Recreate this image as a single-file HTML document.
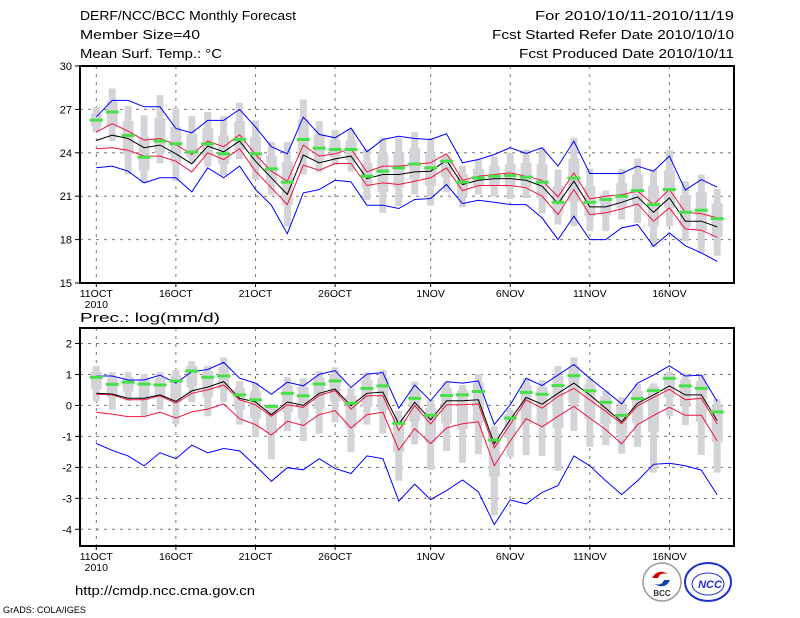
<!DOCTYPE html>
<html><head><meta charset="utf-8"><style>
body{margin:0;background:#fff;}
svg{display:block;font-family:"Liberation Sans","DejaVu Sans",sans-serif;}
</style></head><body>
<svg id="chart" width="800" height="618" viewBox="0 0 800 618" xmlns="http://www.w3.org/2000/svg">
<g font-size="12.5" fill="#000">
<text x="80" y="20" textLength="216" lengthAdjust="spacingAndGlyphs">DERF/NCC/BCC Monthly Forecast</text>
<text x="80" y="39" textLength="120" lengthAdjust="spacingAndGlyphs">Member Size=40</text>
<text x="80" y="58" textLength="142" lengthAdjust="spacingAndGlyphs">Mean Surf. Temp.: °C</text>
<text x="535" y="20" textLength="199" lengthAdjust="spacingAndGlyphs">For 2010/10/11-2010/11/19</text>
<text x="492" y="39" textLength="242" lengthAdjust="spacingAndGlyphs">Fcst Started Refer Date 2010/10/10</text>
<text x="519" y="58" textLength="215" lengthAdjust="spacingAndGlyphs">Fcst Produced Date 2010/10/11</text>
<text x="80" y="322" textLength="140" lengthAdjust="spacingAndGlyphs">Prec.: log(mm/d)</text>
<text x="75" y="595" textLength="180" lengthAdjust="spacingAndGlyphs">http://cmdp.ncc.cma.gov.cn</text>
<text x="3" y="613" font-size="9" textLength="83" lengthAdjust="spacingAndGlyphs">GrADS: COLA/IGES</text>
</g>
<g>
<circle cx="662" cy="582" r="19" fill="#fff" stroke="#999" stroke-width="1.5"/>
<path d="M652 578 q6 -10 16 -4 q-8 -2 -10 4 z" fill="#c00"/>
<path d="M670 580 q-4 10 -16 4 q8 2 10 -4 z" fill="#14a"/>
<text x="662" y="596" font-size="8" font-weight="bold" text-anchor="middle" fill="#333">BCC</text>
</g>
<g>
<ellipse cx="708" cy="582" rx="23" ry="19" fill="#fff" stroke="#23c" stroke-width="2"/>
<ellipse cx="708" cy="584" rx="16" ry="11" fill="none" stroke="#23c" stroke-width="1"/>
<text x="710" y="588" font-size="11" font-style="italic" font-weight="bold" text-anchor="middle" fill="#23c">NCC</text>
</g>
<g id="top"></g>
<g id="bot"></g>
</svg>
<script>
const dayLabels = ["11OCT","16OCT","21OCT","26OCT","1NOV","6NOV","11NOV","16NOV"];
const dayLabelIdx = [0,5,10,15,21,26,31,36];
// Temperature panel
const tTicks = [15,18,21,24,27,30];
const tBlueHi = [26.49,27.62,27.62,27.18,27.18,25.68,25.38,26.24,26.24,27.0,25.78,24.42,23.93,26.47,25.27,25.04,25.71,24.07,24.92,25.15,24.99,24.92,25.31,23.31,23.54,23.88,24.35,23.95,24.35,23.08,24.81,22.57,22.57,22.57,23.08,22.73,23.77,21.42,22.15,21.62];
const tRedHi = [25.45,26.01,25.5,24.88,24.99,24.58,23.88,24.81,24.42,25.25,23.88,22.73,22.04,24.53,23.77,23.93,24.28,22.68,23.08,23.08,23.19,23.31,23.93,22.1,22.38,22.5,22.61,22.38,22.1,20.95,22.61,20.81,21.0,21.11,21.35,20.42,21.46,19.89,19.8,19.5];
const tMean = [24.85,25.22,24.99,24.35,24.53,23.93,23.24,24.46,24.07,24.81,23.42,22.27,21.12,23.84,23.31,23.58,23.77,22.22,22.5,22.5,22.68,22.73,23.49,21.81,22.1,22.2,22.22,22.1,21.69,20.49,22.04,20.26,20.26,20.58,20.95,19.89,20.88,19.27,19.27,18.88];
const tRedLo = [24.28,24.35,24.18,23.77,23.77,23.42,22.68,24.0,23.54,24.28,22.73,21.58,20.42,23.15,22.8,23.26,23.26,21.74,21.92,21.81,22.04,22.27,22.96,21.39,21.74,21.74,21.74,21.58,21.0,19.73,21.46,19.73,19.85,20.12,20.47,19.27,20.19,18.74,18.65,18.16];
const tBlueLo = [22.96,23.08,22.73,21.92,22.27,22.27,21.3,22.96,22.27,23.08,21.46,20.38,18.41,21.23,21.46,22.1,21.99,20.38,20.38,20.15,20.77,20.84,21.81,20.49,20.72,20.58,20.42,20.42,19.5,18.0,19.62,18.0,18.0,18.81,19.04,17.54,18.46,17.58,17.08,16.5];
const tGreen = [26.26,26.82,25.2,23.7,24.81,24.62,24.05,24.62,23.93,24.92,23.93,22.89,21.97,24.92,24.32,24.23,24.23,22.38,22.73,22.96,23.22,22.96,23.42,21.97,22.27,22.38,22.43,22.32,21.97,20.58,22.25,20.58,20.77,21.0,21.39,20.42,21.46,19.89,20.03,19.45];
const tWhiskHi = [27.16,28.45,27.23,26.59,27.99,27.07,26.54,26.82,26.54,27.46,26.24,24.74,24.74,27.69,26.19,25.57,25.66,24.27,25.04,25.04,25.43,24.92,23.88,23.08,23.54,23.77,24.0,24.23,24.35,22.85,25.04,22.89,21.39,22.89,23.61,22.89,24.19,22.04,22.5,21.5];
const tWhiskLo = [25.43,24.81,22.5,21.92,23.27,22.04,23.3,23.04,22.43,23.57,22.15,21.11,18.92,22.5,22.66,23.15,22.7,20.73,19.85,20.31,21.11,20.35,21.27,20.24,21.12,21.0,20.81,20.88,19.8,19.04,18.92,18.58,18.58,19.38,19.15,17.47,18.92,17.89,17.08,16.89];
const tBoxHi = [26.7,27.6,26.2,25.1,26.4,25.8,25.3,25.7,25.2,26.2,25.1,23.8,23.4,26.3,25.3,24.9,24.9,23.3,23.9,24.0,24.3,23.9,23.7,22.5,22.9,23.1,23.2,23.3,23.2,21.7,23.6,21.7,21.1,21.9,22.5,21.7,22.8,21.0,21.3,20.5];
const tBoxLo = [25.8,25.8,23.9,22.8,24.0,23.3,23.7,23.8,23.2,24.2,23.0,22.0,20.4,23.7,23.5,23.7,23.5,21.6,21.3,21.6,22.2,21.7,22.3,21.1,21.7,21.7,21.6,21.6,20.9,19.8,20.6,19.6,19.7,20.2,20.3,18.9,20.2,18.9,18.6,18.2];
// Precipitation panel
const pTicks = [-4,-3,-2,-1,0,1,2];
const pBlueHi = [0.95,0.95,0.82,0.82,0.98,0.72,1.09,1.16,1.39,0.88,0.72,0.36,0.75,0.63,1.0,1.12,0.58,1.01,1.06,-0.09,0.66,0.15,0.77,0.72,0.79,-0.62,0.02,0.875,0.64,0.98,1.32,0.875,0.47,0.05,0.72,0.98,1.28,0.95,0.98,0.13];
const pRedHi = [0.36,0.34,0.18,0.18,0.31,0.07,0.39,0.5,0.66,0.18,0.02,-0.35,0.02,-0.06,0.32,0.48,-0.12,0.31,0.31,-0.81,0.0,-0.6,0.02,0.02,0.05,-1.37,-0.62,0.18,-0.09,0.29,0.55,0.18,-0.19,-0.59,-0.01,0.26,0.52,0.18,0.23,-0.6];
const pMean = [0.39,0.37,0.23,0.23,0.34,0.13,0.47,0.59,0.77,0.23,0.11,-0.3,0.11,0.0,0.39,0.53,-0.01,0.39,0.43,-0.6,0.1,-0.46,0.15,0.15,0.18,-1.24,-0.46,0.26,0.04,0.39,0.72,0.34,-0.09,-0.53,0.07,0.34,0.63,0.34,0.34,-0.49];
const pRedLo = [-0.22,-0.28,-0.36,-0.36,-0.22,-0.41,-0.21,-0.12,0.05,-0.43,-0.62,-0.96,-0.51,-0.65,-0.3,-0.17,-0.73,-0.3,-0.22,-1.44,-0.75,-1.23,-0.73,-0.59,-0.53,-1.95,-1.15,-0.43,-0.69,-0.35,-0.03,-0.41,-0.78,-1.24,-0.62,-0.33,-0.06,-0.32,-0.32,-1.15];
const pBlueLo = [-1.23,-1.45,-1.63,-1.95,-1.53,-1.72,-1.28,-1.53,-1.39,-1.47,-1.95,-2.45,-2.01,-2.08,-1.72,-2.04,-2.2,-1.63,-1.72,-3.09,-2.54,-3.04,-2.75,-2.41,-2.79,-3.85,-3.05,-3.18,-2.81,-2.59,-1.63,-1.95,-2.43,-2.88,-2.43,-1.9,-1.87,-1.95,-2.09,-2.89];
const pGreen = [0.91,0.68,0.75,0.69,0.66,0.79,1.11,0.91,0.95,0.34,0.18,-0.03,0.39,0.31,0.69,0.79,0.07,0.55,0.63,-0.58,0.23,-0.32,0.32,0.34,0.45,-1.12,-0.41,0.42,0.36,0.64,0.96,0.47,0.1,-0.32,0.22,0.48,0.875,0.63,0.55,-0.21];
const pWhiskHi = [1.27,1.07,1.07,1.01,1.07,1.14,1.43,1.27,1.55,0.79,0.74,0.04,0.91,0.88,1.11,1.23,0.56,1.06,1.14,-0.17,0.77,0.18,0.75,0.66,1.01,-0.67,-0.14,0.875,0.82,1.27,1.55,0.88,0.47,0.26,0.69,0.71,1.09,1.03,0.98,0.21];
const pWhiskLo = [0.13,-0.14,0.15,-0.35,-0.14,-0.6,0.1,-0.35,0.1,-0.62,-1.02,-1.74,-0.83,-1.15,-0.91,-0.54,-1.5,-0.62,-0.91,-2.43,-1.26,-2.08,-1.47,-1.85,-1.58,-3.55,-1.66,-1.61,-1.63,-2.11,-0.83,-1.34,-1.28,-1.56,-1.34,-2.17,-0.35,-0.64,-1.6,-2.17];
const pBoxHi = [1.09,0.88,0.91,0.85,0.87,0.97,1.27,1.09,1.25,0.57,0.46,0.01,0.65,0.6,0.9,1.01,0.32,0.81,0.89,-0.38,0.5,-0.07,0.55,0.5,0.73,-0.9,-0.28,0.65,0.59,0.96,1.26,0.68,0.29,-0.03,0.46,0.6,0.98,0.83,0.77,0.0];
const pBoxLo = [0.52,0.27,0.45,0.17,0.26,0.1,0.6,0.28,0.53,-0.14,-0.42,-0.89,-0.22,-0.42,-0.11,0.13,-0.72,-0.04,-0.14,-1.5,-0.52,-1.2,-0.58,-0.76,-0.57,-2.3,-1.04,-0.6,-0.64,-0.74,0.07,-0.44,-0.59,-0.94,-0.56,-0.85,0.26,0,-0.53,-1.19];

const NS = "http://www.w3.org/2000/svg";
const X0 = 96.3, DX = 15.92, PL = 80, PR = 734;
function xDay(i){ return X0 + i*DX; }
function mk(parent, tag, attrs){
  const e = document.createElementNS(NS, tag);
  for (const k in attrs) e.setAttribute(k, attrs[k]);
  parent.appendChild(e); return e;
}
function panel(gid, top, bot, vmin, vmax, ticks, d){
  const g = document.getElementById(gid);
  const y = v => bot - (v - vmin) * (bot - top) / (vmax - vmin);
  const grid = mk(g, 'g', {});
  
  
  ticks.forEach(t => {
    if (y(t) > top + 2 && y(t) < bot - 2) mk(grid, 'line', {x1:PL, x2:PR, y1:y(t), y2:y(t), stroke:'#777', 'stroke-width':1, 'stroke-dasharray':'3,5'});
  });
  dayLabelIdx.forEach(i => mk(grid, 'line', {x1:xDay(i), x2:xDay(i), y1:top, y2:bot, stroke:'#777', 'stroke-width':1, 'stroke-dasharray':'3,5'}));
  for (let i = 0; i < d.green.length; i++){
    const x = xDay(i);
    const w = mk(g, 'rect', {x:x-3.5, y:y(d.wh[i]), width:7, height:Math.max(1, y(d.wl[i]) - y(d.wh[i])), fill:'#d4d4d8'});
    
    
    const b = mk(g, 'rect', {x:x-5.5, y:y(d.bh[i]), width:11, height:Math.max(1, y(d.bl[i]) - y(d.bh[i])), fill:'#d4d4d8'});
    
    
  }
  const lines = [[d.blo,'#0000ff','blue-lower-line'],[d.bhi,'#0000ff','blue-upper-line'],[d.rlo,'#f0143c','red-lower-line'],[d.rhi,'#f0143c','red-upper-line'],[d.mean,'#000','ensemble-mean-line']];
  lines.forEach(([arr, col, name]) => {
    const p = mk(g, 'polyline', {points: arr.map((v,i) => xDay(i).toFixed(1) + ',' + y(v).toFixed(1)).join(' '), fill:'none', stroke:col, 'stroke-width':1});
    
    
  });
  for (let i = 0; i < d.green.length; i++){
    const r = mk(g, 'rect', {x:xDay(i)-6.5, y:y(d.green[i])-1.5, width:13, height:3, fill:'#48e048'});
    
    
  }
  const f = mk(g, 'rect', {x:PL, y:top, width:PR-PL, height:bot-top, fill:'none', stroke:'#000', 'stroke-width':2});
  
  
  ticks.forEach(t => {
    mk(g, 'line', {x1:PL-5, x2:PL, y1:y(t), y2:y(t), stroke:'#000', 'stroke-width':1});
    const tx = mk(g, 'text', {x:PL-8, y:y(t)+4, 'text-anchor':'end', 'font-size':11});
    tx.textContent = String(t);
    
    
  });
  dayLabelIdx.forEach((i, k) => {
    mk(g, 'line', {x1:xDay(i), x2:xDay(i), y1:bot, y2:bot+4, stroke:'#000', 'stroke-width':1});
    const tx = mk(g, 'text', {x:xDay(i), y:bot+14, 'text-anchor':'middle', 'font-size':10.5});
    tx.textContent = dayLabels[k];
    
    
  });
  const yr = mk(g, 'text', {x:xDay(0), y:bot+25, 'text-anchor':'middle', 'font-size':10.5});
  yr.textContent = '2010';
  
  
}
panel('top', 66, 283, 15, 30, tTicks, {bhi:tBlueHi, rhi:tRedHi, mean:tMean, rlo:tRedLo, blo:tBlueLo, green:tGreen, wh:tWhiskHi, wl:tWhiskLo, bh:tBoxHi, bl:tBoxLo});
panel('bot', 328, 546, -4.54, 2.5, pTicks, {bhi:pBlueHi, rhi:pRedHi, mean:pMean, rlo:pRedLo, blo:pBlueLo, green:pGreen, wh:pWhiskHi, wl:pWhiskLo, bh:pBoxHi, bl:pBoxLo});
</script>
</body></html>
